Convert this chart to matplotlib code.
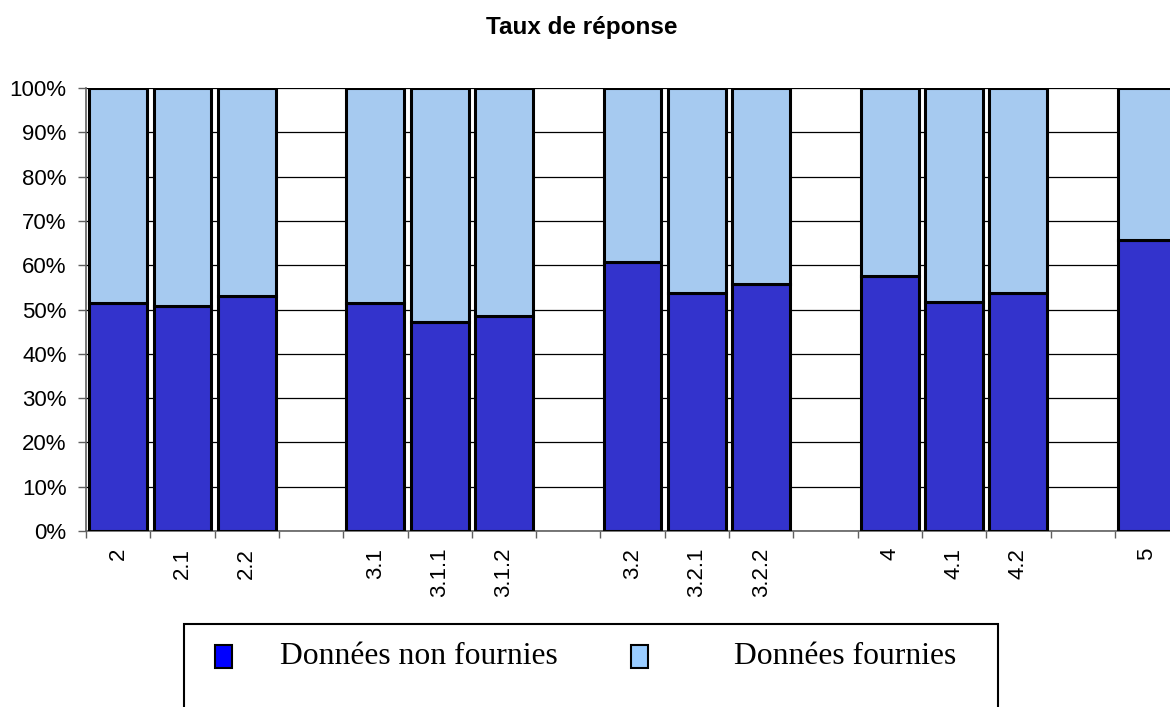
import matplotlib
matplotlib.use('Agg')
import matplotlib.pyplot as plt
from matplotlib.patches import Rectangle

# data
categories = ['2', '2.1', '2.2',
              '3.1', '3.1.1', '3.1.2',
              '3.2', '3.2.1', '3.2.2',
              '4', '4.1', '4.2',
              '5']
non_fournies = [51.4, 50.8, 53.0,
                51.4, 47.2, 48.6,
                60.8, 53.7, 55.8,
                57.6, 51.8, 53.7,
                65.8]
fournies = [100 - v for v in non_fournies]
gap_after = ['2.2', '3.1.2', '3.2.2', '4.2']
legend_labels = ['Données non fournies', 'Données fournies']

dark_blue = '#3333CC'
light_blue = '#A6CAF0'

# x positions with an empty slot after each group
positions = []
x = 0
for c in categories:
    positions.append(x)
    x += 2 if c in gap_after else 1
n_slots = x

plt.rcParams['font.family'] = ['Liberation Sans', 'DejaVu Sans']

fig = plt.figure(figsize=(11.7, 7.07), dpi=100)
ax = fig.add_axes([86 / 1170, 176 / 707, 17 * 64.3 / 1170, 443 / 707])

ax.bar(positions, non_fournies, width=0.9, color=dark_blue,
       edgecolor='black', linewidth=2.2, zorder=3)
ax.bar(positions, fournies, bottom=non_fournies, width=0.9, color=light_blue,
       edgecolor='black', linewidth=2.2, zorder=3)

ax.set_xlim(-0.5, n_slots - 0.5)
ax.set_ylim(0, 100)

# y axis
ax.set_yticks(range(0, 101, 10))
ax.set_yticklabels([f'{v}%' for v in range(0, 101, 10)], fontsize=16)
ax.yaxis.grid(True, color='black', linewidth=0.9, zorder=0)
ax.tick_params(axis='y', length=6, width=1, color='#606060', pad=8)

# x axis: ticks at slot boundaries, labels at bar centres
ax.set_xticks([k - 0.5 for k in range(n_slots + 1)])
ax.set_xticklabels([])
ax.tick_params(axis='x', which='major', length=5, width=1, color='#606060')
ax.set_xticks(positions, minor=True)
ax.set_xticklabels(categories, minor=True, rotation=90, fontsize=16,
                   va='top', ha='center')
ax.tick_params(axis='x', which='minor', length=0, pad=12)

for side in ['top', 'right']:
    ax.spines[side].set_visible(False)
ax.spines['left'].set_color('#606060')
ax.spines['bottom'].set_color('#606060')
ax.spines['left'].set_linewidth(1.2)
ax.spines['bottom'].set_linewidth(1.2)
ax.set_axisbelow(True)

fig.text(582 / 1170, 1 - 34 / 707, 'Taux de réponse', fontsize=17.5,
         fontweight='bold', ha='center', va='baseline')

# legend box, cut off by the bottom edge like the original
fig.patches.append(Rectangle((184 / 1170, -0.1), (998 - 184) / 1170,
                             0.1 + (707 - 624) / 707,
                             transform=fig.transFigure, fill=False,
                             edgecolor='black', linewidth=1.5))
marker_x = [215, 631]
text_x = [280, 734]
marker_colors = ['#0000FF', '#99CCFF']
for lab, mx, tx, mc in zip(legend_labels, marker_x, text_x, marker_colors):
    fig.patches.append(Rectangle((mx / 1170, 1 - 668 / 707), 17 / 1170, 23 / 707,
                                 transform=fig.transFigure, facecolor=mc,
                                 edgecolor='black', linewidth=1.5))
    fig.text(tx / 1170, 1 - 664 / 707, lab, fontsize=22.8,
             family=['Liberation Serif', 'DejaVu Serif'],
             ha='left', va='baseline')

fig.savefig('out.png', dpi=100)
